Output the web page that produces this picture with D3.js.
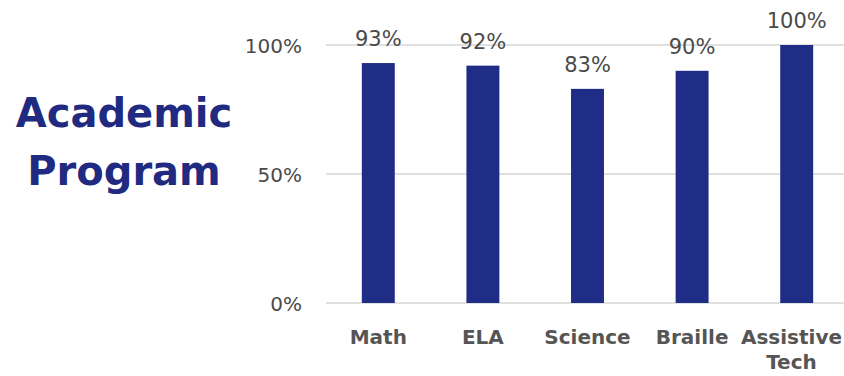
<!DOCTYPE html>
<html>
<head>
<meta charset="utf-8">
<script src="https://cdn.jsdelivr.net/npm/d3@7"></script>
<style>
  html, body { margin: 0; padding: 0; background: #ffffff; }
  svg { display: block; }
</style>
</head>
<body>
<svg id="chart" width="844" height="376"></svg>
<script>
// Share of students reached, by academic program area
const categories = ["Math", "ELA", "Science", "Braille", "Assistive Tech"];
const values = [93, 92, 83, 90, 100];
const yTicks = [0, 50, 100];
const titleLines = ["Academic", "Program"];

const width = 844, height = 376;
const svg = d3.select("#chart");

const x = d3.scaleBand()
  .domain(categories)
  .range([326, 849])
  .paddingInner(0.685)
  .paddingOuter(0.3425);

const y = d3.scaleLinear()
  .domain([0, 100])
  .range([303, 45]);

const textGray = "#4a4a4a";
const barBlue = "#1f2d86";

// Gridlines
svg.append("g")
  .selectAll("line")
  .data(yTicks)
  .join("line")
  .attr("x1", 326)
  .attr("x2", width)
  .attr("y1", d => y(d))
  .attr("y2", d => y(d))
  .attr("stroke", "#d6d6d6")
  .attr("stroke-width", 1.5);

// Y axis labels
const yAxis = d3.axisLeft(y)
  .tickValues(yTicks)
  .tickFormat(d => d + "%")
  .tickSize(0)
  .tickPadding(0);

const yg = svg.append("g")
  .attr("transform", "translate(302,0)")
  .call(yAxis);
yg.select(".domain").remove();
yg.selectAll("text")
  .attr("font-family", "DejaVu Sans, sans-serif")
  .attr("font-size", 20)
  .attr("fill", textGray)
  .attr("dy", "0.36em");

// Bars
svg.append("g")
  .selectAll("rect")
  .data(values)
  .join("rect")
  .attr("x", (d, i) => x(categories[i]))
  .attr("y", d => y(d))
  .attr("width", x.bandwidth())
  .attr("height", d => y(0) - y(d))
  .attr("fill", barBlue);

// Value labels
svg.append("g")
  .selectAll("text")
  .data(values)
  .join("text")
  .attr("x", (d, i) => x(categories[i]) + x.bandwidth() / 2)
  .attr("y", d => y(d) - 17)
  .attr("text-anchor", "middle")
  .attr("font-family", "DejaVu Sans, sans-serif")
  .attr("font-size", 21)
  .attr("fill", textGray)
  .text(d => d + "%");

// Category labels (wrapped onto two lines where needed, kept inside the canvas)
const xg = svg.append("g");
categories.forEach(c => {
  const words = c.split(" ");
  const cx = x(c) + x.bandwidth() / 2;
  const t = xg.append("text")
    .attr("y", 344)
    .attr("text-anchor", "middle")
    .attr("font-family", "DejaVu Sans, sans-serif")
    .attr("font-weight", "bold")
    .attr("font-size", 20)
    .attr("fill", "#555555");
  words.forEach((w, i) => {
    t.append("tspan")
      .attr("x", cx)
      .attr("dy", i === 0 ? 0 : 25)
      .text(w);
  });
  const bb = t.node().getBBox();
  const overflow = bb.x + bb.width - (width - 2);
  if (overflow > 0) {
    t.selectAll("tspan").attr("x", cx - overflow);
  }
});

// Title
svg.append("g")
  .selectAll("text")
  .data(titleLines)
  .join("text")
  .attr("x", 124)
  .attr("y", (d, i) => 127 + i * 58)
  .attr("text-anchor", "middle")
  .attr("font-family", "DejaVu Sans, sans-serif")
  .attr("font-weight", "bold")
  .attr("font-size", 40)
  .attr("fill", "#1f2a80")
  .text(d => d);
</script>
</body>
</html>
